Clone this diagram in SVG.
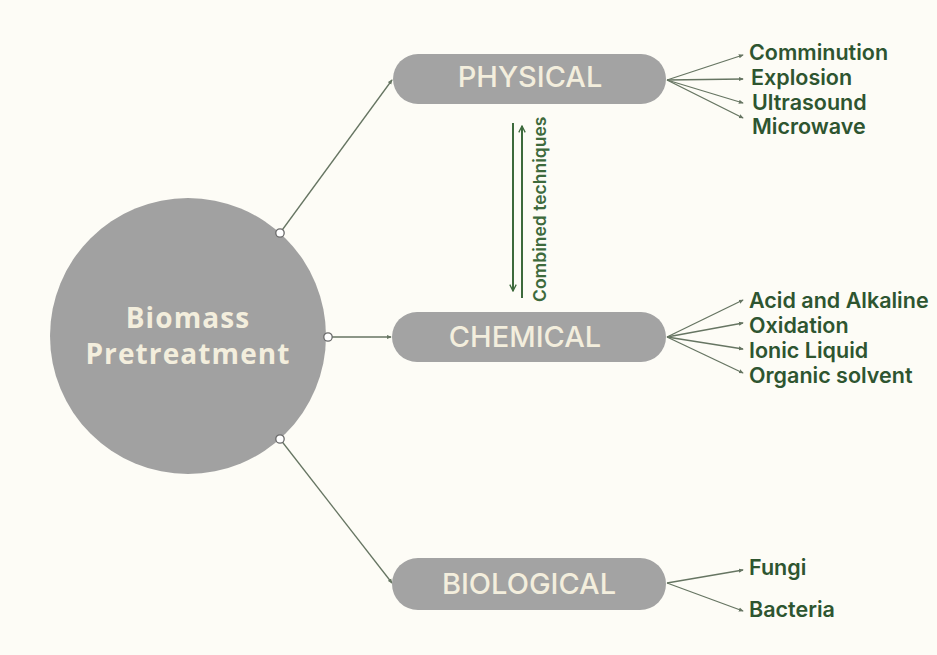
<svg xmlns="http://www.w3.org/2000/svg" width="937" height="655" viewBox="0 0 937 655">
<style>
.pill{fill:#a3a3a3}
.plabel{font-family:Inter,"Liberation Sans",sans-serif;font-size:29px;font-weight:500;fill:#f3eedd;text-anchor:middle}
.leaf{font-family:Inter,"Liberation Sans",sans-serif;font-size:21.5px;font-weight:600;fill:#2e5530}
.conn{stroke:#667562;stroke-width:1.3;fill:none}
.dot{fill:#ffffff;stroke:#6a6a6a;stroke-width:1.3}
.ct{stroke:#3d6a3c;stroke-width:2;fill:none}
</style>
<defs>
<marker id="tip" viewBox="0 0 6 6" refX="5" refY="3" markerWidth="5" markerHeight="5" orient="auto" markerUnits="userSpaceOnUse">
<path d="M0,0.5 L6,3 L0,5.5 z" fill="#667562"/>
</marker>
<marker id="ga" viewBox="0 0 10 10" refX="9" refY="5" markerWidth="8" markerHeight="8" orient="auto" markerUnits="userSpaceOnUse">
<path d="M1,1 L9,5 L1,9" fill="none" stroke="#3d6a3c" stroke-width="1.6"/>
</marker>
</defs>
<rect width="937" height="655" fill="#fdfcf6"/>

<g id="connectors">
<line class="conn" x1="280" y1="233" x2="392" y2="80" marker-end="url(#tip)"/>
<line class="conn" x1="328" y1="337" x2="391" y2="337" marker-end="url(#tip)"/>
<line class="conn" x1="280" y1="439" x2="392" y2="583" marker-end="url(#tip)"/>
<line class="conn" x1="667" y1="80" x2="743" y2="55" marker-end="url(#tip)"/>
<line class="conn" x1="667" y1="80" x2="743" y2="79" marker-end="url(#tip)"/>
<line class="conn" x1="667" y1="80" x2="743" y2="103" marker-end="url(#tip)"/>
<line class="conn" x1="667" y1="80" x2="743" y2="118" marker-end="url(#tip)"/>
<line class="conn" x1="667" y1="337" x2="743" y2="300" marker-end="url(#tip)"/>
<line class="conn" x1="667" y1="337" x2="743" y2="323" marker-end="url(#tip)"/>
<line class="conn" x1="667" y1="337" x2="743" y2="349" marker-end="url(#tip)"/>
<line class="conn" x1="667" y1="337" x2="743" y2="373" marker-end="url(#tip)"/>
<line class="conn" x1="667" y1="583" x2="743" y2="570" marker-end="url(#tip)"/>
<line class="conn" x1="667" y1="583" x2="743" y2="611" marker-end="url(#tip)"/>
<line class="ct" x1="513" y1="123" x2="513" y2="291" marker-end="url(#ga)"/>
<line class="ct" x1="522" y1="298" x2="522" y2="126" marker-end="url(#ga)"/>
<text transform="translate(546,302) rotate(-90)" font-family="Inter,'Liberation Sans',sans-serif" font-size="17.5" font-weight="600" fill="#3d6a3c">Combined techniques</text>
</g>

<g id="biomass">
<circle cx="188" cy="336" r="138" fill="#a1a1a1"/>
<text x="188" y="328" font-family="'Open Sans','Liberation Sans',sans-serif" font-size="28" font-weight="700" fill="#f3eedd" text-anchor="middle" letter-spacing="1.1">Biomass</text>
<text x="188" y="364" font-family="'Open Sans','Liberation Sans',sans-serif" font-size="28" font-weight="700" fill="#f3eedd" text-anchor="middle" letter-spacing="1.1">Pretreatment</text>
<circle class="dot" cx="280" cy="233" r="4.2"/>
<circle class="dot" cx="328" cy="337" r="4.2"/>
<circle class="dot" cx="280" cy="439" r="4.2"/>
</g>

<g id="physical">
<rect class="pill" x="393" y="54" width="273" height="50" rx="25"/>
<text class="plabel" x="530" y="87">PHYSICAL</text>
</g>
<g id="chemical">
<rect class="pill" x="392" y="312" width="274" height="50" rx="25"/>
<text class="plabel" x="525" y="347">CHEMICAL</text>
</g>
<g id="biological">
<rect class="pill" x="392" y="558" width="274" height="52" rx="26"/>
<text class="plabel" x="529" y="594">BIOLOGICAL</text>
</g>

<g id="physical-items">
<text class="leaf" x="749" y="60">Comminution</text>
<text class="leaf" x="751" y="85">Explosion</text>
<text class="leaf" x="752" y="110">Ultrasound</text>
<text class="leaf" x="752" y="134">Microwave</text>
</g>
<g id="chemical-items">
<text class="leaf" x="749" y="308">Acid and Alkaline</text>
<text class="leaf" x="749" y="333">Oxidation</text>
<text class="leaf" x="749" y="358">Ionic Liquid</text>
<text class="leaf" x="749" y="383">Organic solvent</text>
</g>
<g id="biological-items">
<text class="leaf" x="749" y="575">Fungi</text>
<text class="leaf" x="749" y="617">Bacteria</text>
</g>
</svg>
